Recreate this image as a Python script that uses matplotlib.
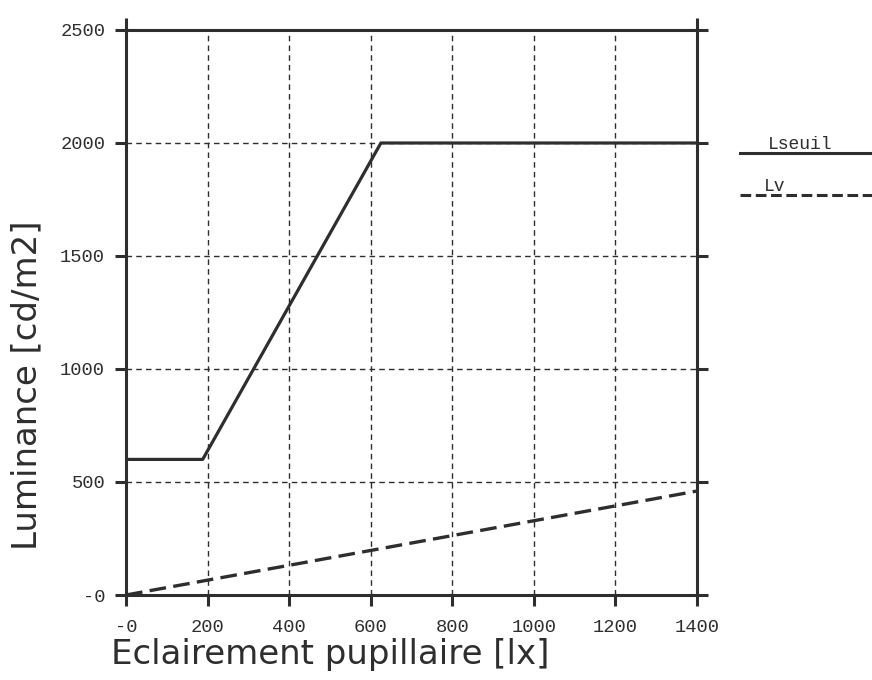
import matplotlib
matplotlib.use("Agg")
import matplotlib.pyplot as plt
from matplotlib.lines import Line2D

# Threshold luminance (piecewise) and veiling luminance vs pupil illuminance
E_seuil = [0, 188, 625, 1400]
L_seuil = [600, 600, 2000, 2000]
E_v = [0, 1400]
L_v = [0, 460]

x_ticks = [0, 200, 400, 600, 800, 1000, 1200, 1400]
x_labels = ["-0", "200", "400", "600", "800", "1000", "1200", "1400"]
y_ticks = [0, 500, 1000, 1500, 2000, 2500]
y_labels = ["-0", "500", "1000", "1500", "2000", "2500"]

ink = "#2e2e2e"
mono = "Liberation Mono"
sans = "DejaVu Sans"

fig = plt.figure(figsize=(8.72, 6.8), dpi=100)
ax = fig.add_axes([0.1445, 0.125, 0.6548, 0.8309])

ax.plot(E_seuil, L_seuil, color=ink, lw=2.3, solid_capstyle="butt", zorder=3)
ax.plot(E_v, L_v, color=ink, lw=2.4, linestyle=(0, (5, 2.2)), zorder=3)

ax.set_xlim(0, 1400)
ax.set_ylim(0, 2500)
ax.set_xticks(x_ticks)
ax.set_xticklabels(x_labels, family=mono, fontsize=13.5, color=ink)
ax.set_yticks(y_ticks)
ax.set_yticklabels(y_labels, family=mono, fontsize=13.5, color=ink)

for s in ax.spines.values():
    s.set_linewidth(2.2)
    s.set_color(ink)

ax.tick_params(axis="both", direction="out", length=8, width=2.2, color=ink)
ax.tick_params(axis="x", pad=9)
ax.tick_params(axis="y", pad=7, right=True)

# corner extensions above the frame
top = ax.secondary_xaxis("top")
top.set_xticks([0, 1400])
top.set_xticklabels(["", ""])
top.tick_params(direction="out", length=9, width=2.2, color=ink)
top.spines["top"].set_visible(False)

# dashed grid, hidden on the frame edges
for x in x_ticks[1:-1]:
    ax.axvline(x, color=ink, lw=1.0, linestyle=(0, (4, 3)), zorder=1)
for y in y_ticks[1:-1]:
    ax.axhline(y, color=ink, lw=1.0, linestyle=(0, (4, 3)), zorder=1)

ax.set_xlabel("Eclairement pupillaire [lx]", family=sans, fontsize=24.5,
              color=ink)
ax.set_ylabel("Luminance [cd/m2]", family=sans, fontsize=24.5, color=ink)
ax.xaxis.set_label_coords(0.357, -0.106)
ax.yaxis.set_label_coords(-0.173, 0.372)
ax.xaxis.label.set_va("center")
ax.yaxis.label.set_va("center")

# legend drawn outside the frame
W, H = 872, 680
fig.add_artist(Line2D([740 / W, 1.0], [1 - 153 / H, 1 - 153 / H],
                      transform=fig.transFigure, color=ink, lw=2.2))
fig.text(800 / W, 1 - 149 / H, "Lseuil", family=mono, fontsize=13,
         color=ink, ha="center", va="baseline")
fig.add_artist(Line2D([740 / W, 1.0], [1 - 195 / H, 1 - 195 / H],
                      transform=fig.transFigure, color=ink, lw=2.2,
                      linestyle=(0, (3.5, 1.5))))
fig.text(775 / W, 1 - 191 / H, "Lv", family=mono, fontsize=13,
         color=ink, ha="center", va="baseline")

fig.savefig("out.png", dpi=100)
